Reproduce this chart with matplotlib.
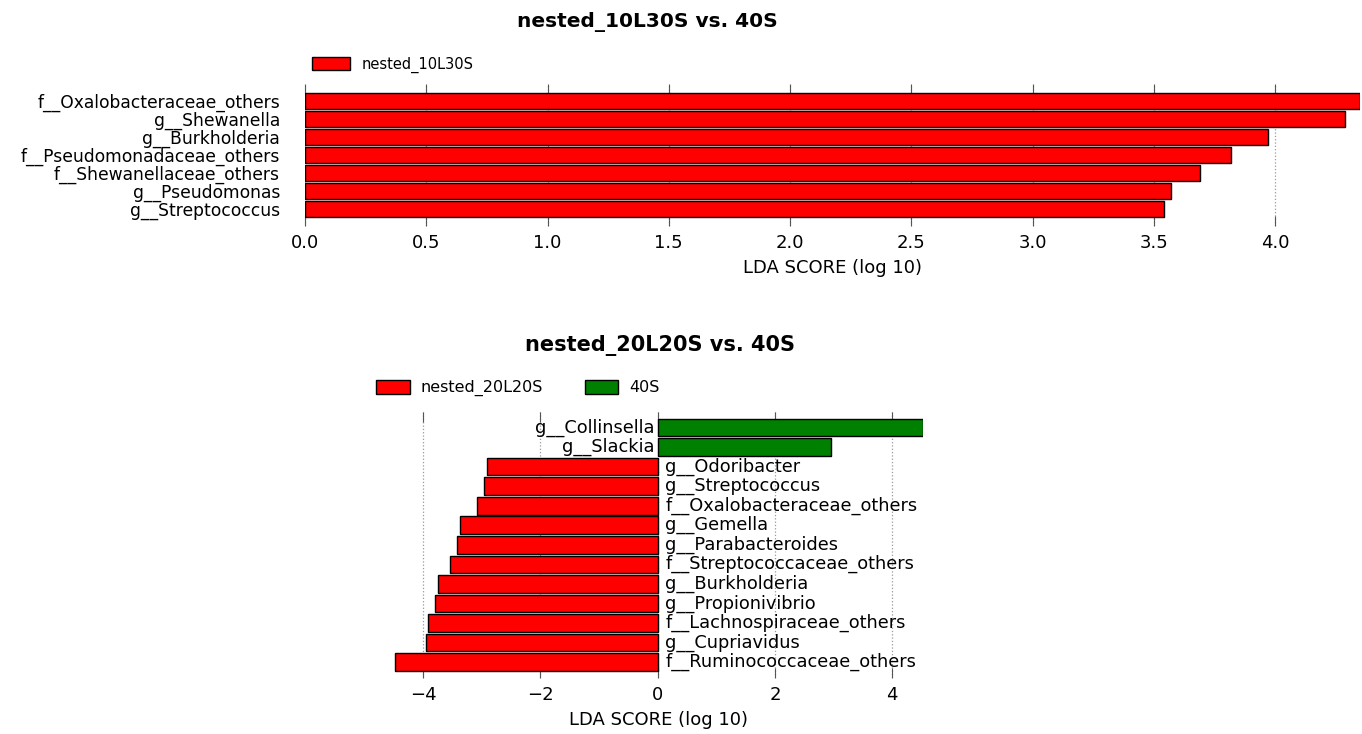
import matplotlib
matplotlib.use("Agg")
import matplotlib.pyplot as plt
from matplotlib.patches import Patch
import numpy as np

plt.rcParams['font.family'] = ['DejaVu Sans']

# ---- data ----
top_title = "nested_10L30S vs. 40S"
top_group = "nested_10L30S"
top_labels = ["f__Oxalobacteraceae_others", "g__Shewanella", "g__Burkholderia",
              "f__Pseudomonadaceae_others", "f__Shewanellaceae_others",
              "g__Pseudomonas", "g__Streptococcus"]
top_values = [4.35, 4.29, 3.97, 3.82, 3.69, 3.57, 3.54]
top_ticks = [0.0, 0.5, 1.0, 1.5, 2.0, 2.5, 3.0, 3.5, 4.0]

bot_title = "nested_20L20S vs. 40S"
bot_groups = ["nested_20L20S", "40S"]
bot_labels = ["g__Collinsella", "g__Slackia", "g__Odoribacter", "g__Streptococcus",
              "f__Oxalobacteraceae_others", "g__Gemella", "g__Parabacteroides",
              "f__Streptococcaceae_others", "g__Burkholderia", "g__Propionivibrio",
              "f__Lachnospiraceae_others", "g__Cupriavidus", "f__Ruminococcaceae_others"]
bot_values = [4.52, 2.96, -2.92, -2.97, -3.09, -3.38, -3.43, -3.54, -3.74, -3.80,
              -3.91, -3.95, -4.49]
bot_ticks = [-4, -2, 0, 2, 4]

RED = "#ff0000"
GREEN = "#008000"

W, H = 1362, 734
fig = plt.figure(figsize=(W / 100, H / 100), dpi=100)


def px_axes(x0, y0, x1, y1):
    return fig.add_axes([x0 / W, 1 - y1 / H, (x1 - x0) / W, (y1 - y0) / H])


def style(ax):
    for s in ax.spines.values():
        s.set_visible(False)
    ax.xaxis.grid(True, linestyle=':', color='#999999', linewidth=0.9, zorder=0)
    ax.set_axisbelow(True)
    ax.tick_params(axis='x', which='both', top=True, bottom=True, direction='in',
                   length=7, width=0.8, color='#555555', labelsize=13, pad=6)


# ---- top chart ----
ax1 = px_axes(305, 84, 1360, 226)
n1 = len(top_labels)
y1 = np.arange(n1)[::-1]
ax1.barh(y1, top_values, height=0.88, color=RED, edgecolor='black', linewidth=1.0, zorder=3)
ax1.set_xlim(0, max(top_values))
ax1.set_ylim(-0.95, n1 - 1 + 0.95)
ax1.set_yticks(y1)
ax1.set_yticklabels(top_labels, fontsize=12.3)
ax1.tick_params(axis='y', length=0, pad=18)
style(ax1)
ax1.set_xticks(top_ticks)
ax1.set_xticklabels([f"{t:.1f}" for t in top_ticks])
ax1.set_xlabel("LDA SCORE (log 10)", fontsize=13, labelpad=5)
fig.text(647 / W, 1 - 22 / H, top_title, ha='center', va='center',
         fontsize=14.5, fontweight='bold')
fig.legend(handles=[Patch(facecolor=RED, edgecolor='black', label=top_group)],
           loc='center left', bbox_to_anchor=(305 / W, 1 - 65 / H), frameon=False,
           fontsize=10.5, handlelength=2.6, handleheight=1.0, borderpad=0)

# ---- bottom chart ----
ax2 = px_axes(394.5, 412, 922.6, 678)
n2 = len(bot_labels)
y2 = np.arange(n2)[::-1]
cols = [GREEN if v > 0 else RED for v in bot_values]
ax2.barh(y2, bot_values, height=0.9, color=cols, edgecolor='black', linewidth=1.0, zorder=3)
ax2.set_xlim(min(bot_values), max(bot_values))
ax2.set_ylim(-0.82, n2 - 1 + 0.8)
ax2.set_yticks([])
style(ax2)
ax2.set_xticks(bot_ticks)
ax2.set_xticklabels([f"{t}".replace('-', '\u2212') for t in bot_ticks])
ax2.set_xlabel("LDA SCORE (log 10)", fontsize=13, labelpad=5)
for yy, lab, v in zip(y2, bot_labels, bot_values):
    if v > 0:
        ax2.text(-0.05, yy, lab, ha='right', va='center', fontsize=12.8, zorder=4)
    else:
        ax2.text(0.13, yy, lab, ha='left', va='center', fontsize=12.8, zorder=4)
fig.text(660 / W, 1 - 345 / H, bot_title, ha='center', va='center',
         fontsize=15, fontweight='bold')
fig.legend(handles=[Patch(facecolor=RED, edgecolor='black', label=bot_groups[0]),
                    Patch(facecolor=GREEN, edgecolor='black', label=bot_groups[1])],
           loc='center left', bbox_to_anchor=(368 / W, 1 - 388 / H), frameon=False,
           fontsize=11.5, ncol=2, handlelength=2.1, handleheight=1.0, borderpad=0,
           handletextpad=0.7, columnspacing=2.6)

fig.savefig("out.png", dpi=100)
